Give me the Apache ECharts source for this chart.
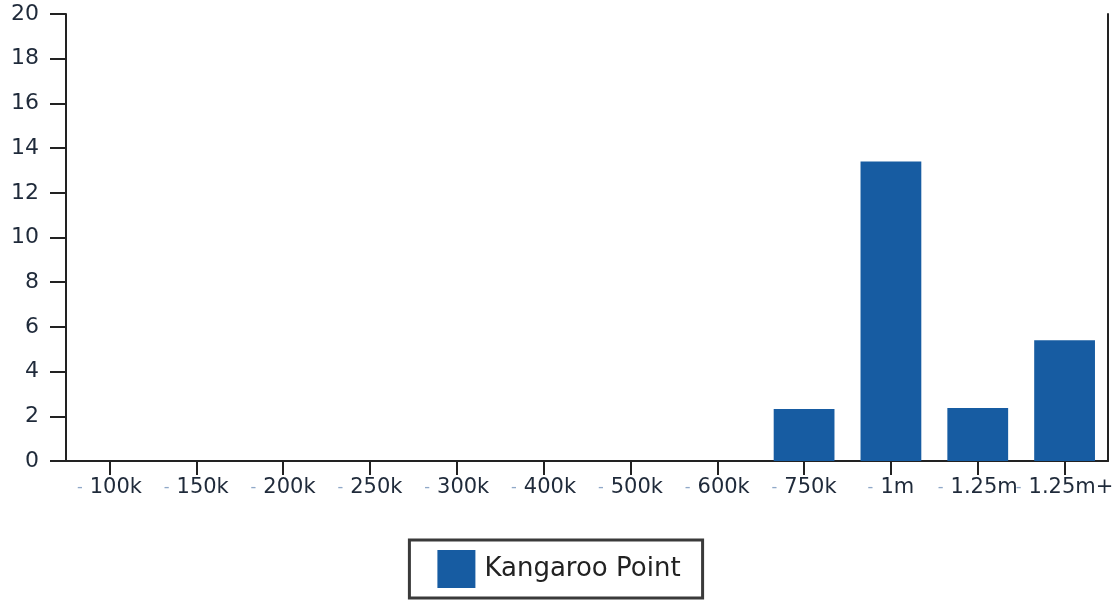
<!DOCTYPE html>
<html><head><meta charset="utf-8">
<script src="https://cdn.jsdelivr.net/npm/echarts@6/dist/echarts.min.js"></script>
<style>html,body{margin:0;padding:0;background:#fff}#c{width:1118px;height:600px}</style>
</head><body><div id="c"></div>
<script>
const categories = ["100k","150k","200k","250k","300k","400k","500k","600k","750k","1m","1.25m","1.25m+"];
const seriesName = "Kangaroo Point";
const values = [0,0,0,0,0,0,0,0,2.33,13.4,2.37,5.4];
const yTicks = [0,2,4,6,8,10,12,14,16,18,20];

const chart = echarts.init(document.getElementById('c'));
chart.setOption({
  animation:false,
  backgroundColor:'#fff',
  grid:{left:66,right:10,top:14,bottom:139},
  legend:{
    data:[seriesName], bottom:2, left:'center',
    backgroundColor:'#fff', borderColor:'#3a3a3a', borderWidth:3,
    padding:[10,22,10,28], itemWidth:38, itemHeight:38, itemGap:10,
    icon:'rect',
    textStyle:{fontFamily:'DejaVu Sans',fontSize:26,color:'#222',padding:[0,0,0,4]}
  },
  xAxis:{
    type:'category', data:categories,
    axisLine:{lineStyle:{color:'#222',width:2}},
    axisTick:{show:true,alignWithLabel:true,length:14,lineStyle:{color:'#222',width:2}},
    axisLabel:{interval:0,margin:16,
      formatter:v=>'{d|-}{t|'+v+'}',
      rich:{d:{color:'#8fa8c8',fontSize:16,fontFamily:'DejaVu Sans',padding:[0,7,0,0]},
            t:{color:'#1f2a3a',fontSize:21,fontFamily:'DejaVu Sans'}}}
  },
  yAxis:[{
    type:'value', min:yTicks[0], max:yTicks[yTicks.length-1], interval:2,
    axisLine:{show:true,lineStyle:{color:'#222',width:2}},
    axisTick:{show:true,length:16,lineStyle:{color:'#222',width:2}},
    axisLabel:{margin:27,color:'#1f2a3a',fontSize:22,fontFamily:'DejaVu Sans'},
    splitLine:{show:false}
  },{
    type:'value', min:0, max:20, position:'right',
    axisLine:{show:true,lineStyle:{color:'#222',width:2}},
    axisTick:{show:false}, axisLabel:{show:false}, splitLine:{show:false}
  }],
  series:[{
    name:seriesName, type:'bar', data:values, barWidth:'70%',
    itemStyle:{color:'#175ca2'}
  }]
});
</script></body></html>
